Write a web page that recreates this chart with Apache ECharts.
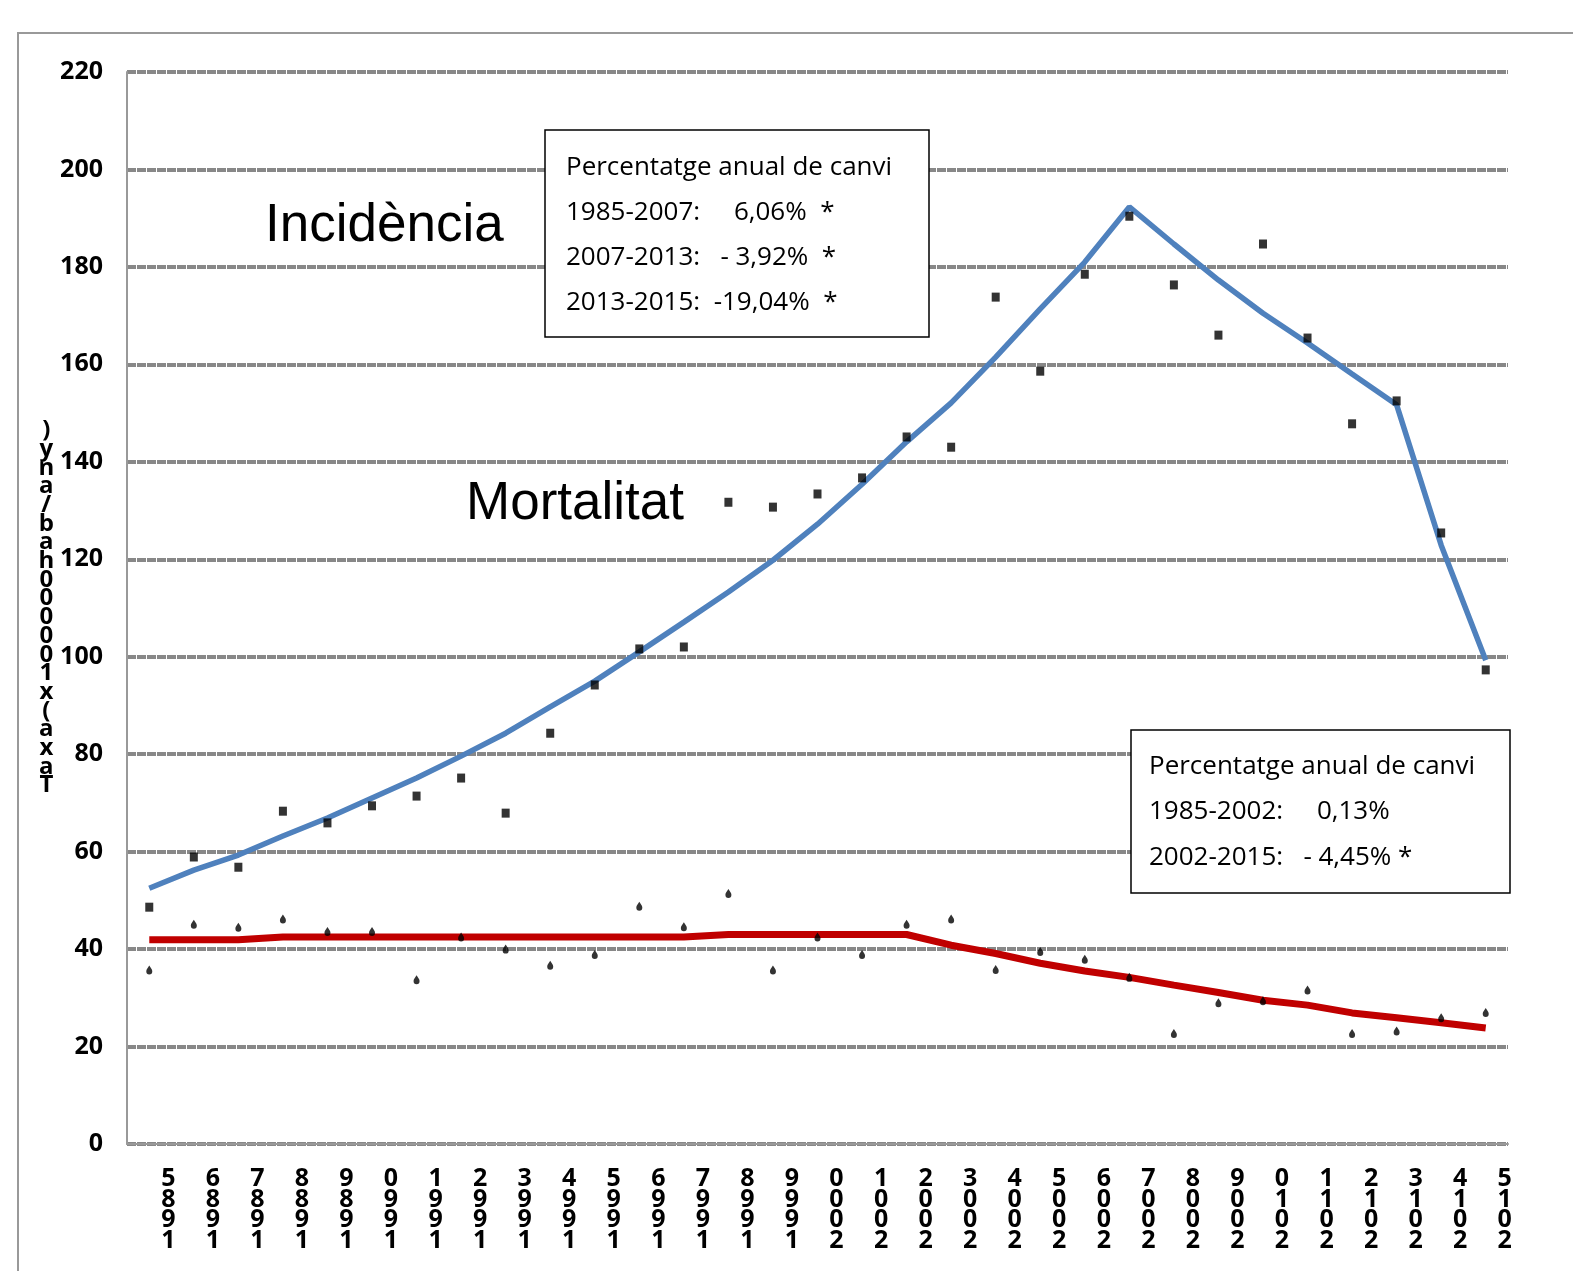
<!DOCTYPE html>
<html>
<head>
<meta charset="utf-8">
<script src="https://cdn.jsdelivr.net/npm/echarts@6/dist/echarts.min.js"></script>
<style>
  html, body { margin: 0; padding: 0; background: #fff; }
  #chart { width: 1573px; height: 1271px; }
</style>
</head>
<body>
<div id="chart"></div>
<script>
// anys 1985-2015
var years = ['1985', '1986', '1987', '1988', '1989', '1990', '1991', '1992', '1993', '1994',
    '1995', '1996', '1997', '1998', '1999', '2000', '2001', '2002', '2003', '2004',
    '2005', '2006', '2007', '2008', '2009', '2010', '2011', '2012', '2013', '2014', '2015'];

// taxes observades
var incidencia = [48.6, 58.9, 56.8, 68.3, 65.9, 69.4, 71.4, 75.1, 67.9, 84.3,
    94.2, 101.6, 102.0, 131.7, 130.7, 133.4, 136.7, 145.1, 143.0, 173.8,
    158.6, 178.5, 190.4, 176.3, 166.0, 184.7, 165.4, 147.8, 152.5, 125.4, 97.3];
var mortalitat = [35.7, 45.1, 44.5, 46.2, 43.6, 43.6, 33.7, 42.5, 40.0, 36.7,
    38.9, 48.8, 44.6, 51.4, 35.7, 42.5, 38.9, 45.1, 46.2, 35.8,
    39.5, 37.9, 34.2, 22.7, 29.0, 29.4, 31.6, 22.7, 23.2, 25.9, 27.0];

// tendencies (joinpoint)
var incidenciaFit = [52.5, 56.2, 59.3, 63.2, 66.9, 71.0, 75.1, 79.6, 84.3, 89.7,
    95.0, 101.0, 107.1, 113.3, 119.8, 127.2, 135.4, 144.1, 152.1, 161.5,
    171.4, 181.0, 192.3, 184.7, 177.3, 170.5, 164.4, 158.0, 151.7, 122.9, 99.3];
var mortalitatFit = [41.9, 41.9, 41.9, 42.5, 42.5, 42.5, 42.5, 42.5, 42.5, 42.5,
    42.5, 42.5, 42.5, 43.0, 43.0, 43.0, 43.0, 43.0, 40.8, 39.1,
    37.1, 35.5, 34.2, 32.6, 31.1, 29.5, 28.5, 26.9, 25.9, 24.9, 23.8];

var yTicks = [0, 20, 40, 60, 80, 100, 120, 140, 160, 180, 200, 220];

var boxIncidencia = ['Percentatge anual de canvi', '1985-2007:     6,06%  *',
    '2007-2013:   - 3,92%  *', '2013-2015:  -19,04%  *'];
var boxMortalitat = ['Percentatge anual de canvi', '1985-2002:     0,13%',
    '2002-2015:   - 4,45% *'];

var yName = 'Taxa (x100000 hab/any)';

// text vertical "apilat" i invertit, com a l'original
function stack(s) {
    return s.replace(/ /g, '').split('').reverse().join('\n');
}

var sans = '"Open Sans", sans-serif';
var dropPath = 'path://M5,0 C3,3 0,6 0,9 A5,5 0 0 0 10,9 C10,6 7,3 5,0 Z';

var myChart = echarts.init(document.getElementById('chart'));

var option = {
    backgroundColor: '#fff',
    animation: false,
    grid: { left: 127, right: 65, top: 72, bottom: 127 },
    xAxis: {
        type: 'category',
        data: years,
        boundaryGap: true,
        axisLine: { lineStyle: { color: '#999', width: 2 } },
        axisTick: { show: false },
        axisLabel: {
            interval: 0,
            margin: 25,
            fontFamily: sans,
            fontWeight: 'bold',
            fontSize: 25,
            lineHeight: 20.5,
            color: '#000',
            align: 'center',
            padding: [0, 0, 0, 38],
            formatter: function (v) { return stack(v); }
        }
    },
    yAxis: {
        type: 'value',
        min: 0,
        max: yTicks[yTicks.length - 1],
        interval: 20,
        name: stack(yName),
        nameLocation: 'middle',
        nameRotate: 0,
        nameGap: 72,
        nameTextStyle: {
            fontFamily: sans,
            fontWeight: 'bold',
            fontSize: 24,
            lineHeight: 18.7,
            color: '#000',
            align: 'center'
        },
        axisLine: { show: true, lineStyle: { color: '#999', width: 2 } },
        axisTick: { show: false },
        axisLabel: {
            margin: 24,
            fontFamily: sans,
            fontWeight: 'bold',
            fontSize: 25,
            color: '#000'
        },
        splitLine: {
            lineStyle: { color: '#888', width: 4, type: [9, 1] }
        }
    },
    series: [
        {
            name: 'Incidència',
            type: 'line',
            data: incidenciaFit,
            showSymbol: false,
            lineStyle: { color: '#4F81BD', width: 5.5 },
            z: 2
        },
        {
            name: 'Mortalitat',
            type: 'line',
            data: mortalitatFit,
            showSymbol: false,
            lineStyle: { color: '#C00000', width: 7 },
            z: 2
        },
        {
            name: 'Incidència observada',
            type: 'scatter',
            data: incidencia,
            symbol: 'rect',
            symbolSize: [8, 9],
            itemStyle: { color: '#000' },
            z: 3
        },
        {
            name: 'Mortalitat observada',
            type: 'scatter',
            data: mortalitat,
            symbol: dropPath,
            symbolSize: [6, 9],
            itemStyle: { color: '#000' },
            z: 3
        }
    ],
    graphic: [
        {
            type: 'rect',
            shape: { x: 18, y: 33, width: 1600, height: 1300 },
            style: { fill: 'none', stroke: '#999', lineWidth: 2 },
            silent: true
        },
        {
            type: 'text',
            x: 265, y: 226, z: 10,
            style: {
                text: 'Incidència', font: '53px "Liberation Sans", Arial, sans-serif',
                fill: '#000', verticalAlign: 'middle'
            }
        },
        {
            type: 'text',
            x: 466, y: 504, z: 10,
            style: {
                text: 'Mortalitat', font: '53px "Liberation Sans", Arial, sans-serif',
                fill: '#000', verticalAlign: 'middle'
            }
        },
        {
            type: 'group',
            x: 545, y: 130, z: 10,
            children: [
                {
                    type: 'rect', z: 10,
                    shape: { x: 0, y: 0, width: 384, height: 207 },
                    style: { fill: '#fff', stroke: '#000', lineWidth: 1.5 }
                },
                {
                    type: 'text', z: 11,
                    x: 21, y: 14.5,
                    style: {
                        text: boxIncidencia.join('\n'),
                        font: '26px ' + sans,
                        lineHeight: 45.3,
                        fill: '#000',
                        verticalAlign: 'top'
                    }
                }
            ]
        },
        {
            type: 'group',
            x: 1131, y: 730, z: 10,
            children: [
                {
                    type: 'rect', z: 10,
                    shape: { x: 0, y: 0, width: 379, height: 163 },
                    style: { fill: '#fff', stroke: '#000', lineWidth: 1.5 }
                },
                {
                    type: 'text', z: 11,
                    x: 18, y: 13.5,
                    style: {
                        text: boxMortalitat.join('\n'),
                        font: '26px ' + sans,
                        lineHeight: 45.5,
                        fill: '#000',
                        verticalAlign: 'top'
                    }
                }
            ]
        }
    ]
};

myChart.setOption(option);
</script>
</body>
</html>
